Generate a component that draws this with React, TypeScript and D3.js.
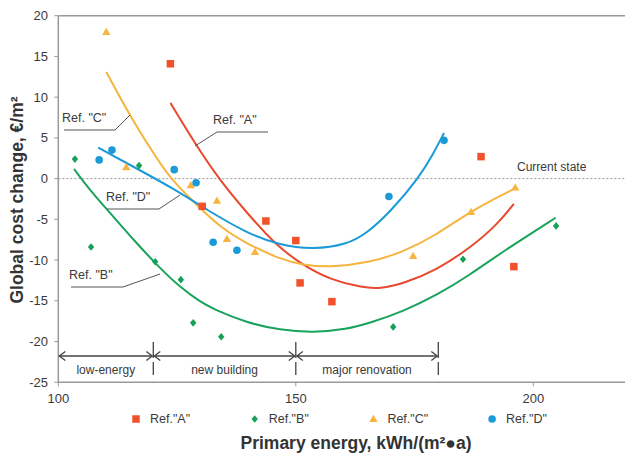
import React from "react";
import * as d3 from "d3";

// ---------- data ----------
const seriesNames = ['Ref."A"', 'Ref."B"', 'Ref."C"', 'Ref."D"'];
const seriesColors = ["#F2512B", "#16A157", "#F7B43E", "#1A9BD7"];
const curveColors = ["#E8492E", "#1AA35A", "#F5B43F", "#1A9AD6"];

const refAPoints: [number, number][] = [
  [123.6, 14.1], [130.3, -3.4], [143.7, -5.2], [150.0, -7.6],
  [150.9, -12.8], [157.6, -15.1], [189.0, 2.7], [195.9, -10.8],
];
const refBPoints: [number, number][] = [
  [103.5, 2.4], [106.9, -8.4], [117.0, 1.6], [120.4, -10.2], [125.8, -12.4],
  [128.4, -17.7], [134.3, -19.4], [170.5, -18.2], [185.2, -9.9], [204.8, -5.8],
];
const refCPoints: [number, number][] = [
  [110.1, 18.0], [114.3, 1.4], [127.9, -0.8], [133.4, -2.7], [135.5, -7.4],
  [141.4, -9.0], [174.7, -9.5], [186.9, -4.1], [196.2, -1.1],
];
const refDPoints: [number, number][] = [
  [108.6, 2.3], [111.3, 3.5], [124.4, 1.1], [129.0, -0.5],
  [132.6, -7.8], [137.6, -8.8], [169.6, -2.2], [181.2, 4.7],
];

// trend curves
const refACurve: [number, number][] = [
  [123.6, 9.3], [129.0, 4.1], [134.0, -0.2], [139.7, -4.2], [146.0, -8.3],
  [151.5, -10.6], [157.2, -12.4], [164.2, -13.4], [167.7, -13.5], [172.6, -12.9],
  [179.7, -11.2], [186.7, -8.5], [192.3, -5.7], [195.9, -3.1],
];
const refBCurve: [number, number][] = [
  [103.3, 1.2], [106.5, -1.3], [110.9, -4.2], [115.8, -7.5], [121.4, -11.0],
  [125.6, -13.3], [129.8, -15.1], [132.6, -16.0], [139.7, -17.7], [146.7, -18.6],
  [153.7, -18.9], [160.7, -18.5], [165.7, -17.7], [172.6, -16.3], [179.7, -14.3],
  [186.7, -11.8], [193.7, -8.9], [204.7, -4.8],
];
const refCCurve: [number, number][] = [
  [110.1, 13.1], [115.2, 7.6], [119.5, 3.6], [123.5, 0.0], [129.8, -3.6],
  [134.0, -5.9], [139.7, -8.0], [146.7, -9.9], [151.5, -10.6], [157.2, -10.9],
  [165.7, -10.3], [172.6, -9.0], [179.7, -6.9], [186.7, -4.0], [196.2, -1.2],
];
const refDCurve: [number, number][] = [
  [108.4, 3.8], [116.0, 1.4], [124.2, -1.2], [131.2, -3.8], [139.7, -6.7],
  [146.7, -8.2], [153.7, -8.7], [160.7, -8.1], [165.0, -6.7], [170.0, -4.0],
  [175.8, 0.0], [179.0, 3.1], [181.2, 5.6],
];

const pointSets = [refAPoints, refBPoints, refCPoints, refDPoints];
const curveSets = [refACurve, refBCurve, refCCurve, refDCurve];

const yTicks = [20, 15, 10, 5, 0, -5, -10, -15, -20, -25];
const xTicks = [100, 150, 200];

const zones = [
  { from: 100, to: 120, label: "low-energy" },
  { from: 120, to: 150, label: "new building" },
  { from: 150, to: 180, label: "major renovation" },
];
const zoneBounds = [120, 150, 180];

// ---------- layout ----------
const W = 625;
const H = 455;
const FONT = "'Liberation Sans', Arial, sans-serif";
const TEXT = "#3a3a3a";
const FRAME = "#9a9a9a";

const x = d3.scaleLinear().domain([100, 220]).range([58.3, 628.3]);
const y = d3.scaleLinear().domain([-25, 20]).range([382.3, 15.7]);

const line = d3
  .line<[number, number]>()
  .x((d) => x(d[0]))
  .y((d) => y(d[1]))
  .curve(d3.curveBasis);

function Marker({ kind, cx, cy, color }: { kind: number; cx: number; cy: number; color: string }) {
  if (kind === 0) {
    const s = 7.5;
    return <rect x={cx - s / 2} y={cy - s / 2} width={s} height={s} fill={color} />;
  }
  if (kind === 1) {
    const w = 3.2, h = 3.8;
    return (
      <path
        d={`M${cx},${cy - h}L${cx + w},${cy}L${cx},${cy + h}L${cx - w},${cy}Z`}
        fill={color}
      />
    );
  }
  if (kind === 2) {
    const p = d3.symbol(d3.symbolTriangle, 30)();
    return <path d={p || ""} transform={`translate(${cx},${cy + 0.6})`} fill={color} />;
  }
  return <circle cx={cx} cy={cy} r={3.8} fill={color} />;
}

function Arrow({ x1, x2, yy }: { x1: number; x2: number; yy: number }) {
  const a = 6, b = 4.5;
  return (
    <g stroke="#444" strokeWidth={1.3} fill="none">
      <line x1={x1 + 1} x2={x2 - 1} y1={yy} y2={yy} />
      <path d={`M${x1 + a + 1},${yy - b}L${x1 + 1},${yy}L${x1 + a + 1},${yy + b}`} />
      <path d={`M${x2 - a - 1},${yy - b}L${x2 - 1},${yy}L${x2 - a - 1},${yy + b}`} />
    </g>
  );
}

// callout labels
const callouts: { text: string; tx: number; ty: number; d: string }[] = [
  { text: 'Ref. "C"', tx: 62, ty: 118, d: "M64,130L115,130L130,115" },
  { text: 'Ref. "A"', tx: 213, ty: 120, d: "M268,132L217,132L195,146" },
  { text: 'Ref. "D"', tx: 106, ty: 197, d: "M107,209L159,209L180,195" },
  { text: 'Ref. "B"', tx: 69, ty: 275, d: "M71,287L123,287L160,274" },
];

export default function App() {
  const arrowY = 356;
  return (
    <svg
      width={W}
      height={H}
      viewBox={`0 0 ${W} ${H}`}
      style={{ position: "absolute", left: 0, top: 0, background: "#fff" }}
      fontFamily={FONT}
    >
      <rect x={0} y={0} width={W} height={H} fill="#fff" />

      {/* frame */}
      <line x1={x(100)} x2={W} y1={y(20)} y2={y(20)} stroke={FRAME} strokeWidth={1.5} />
      <line x1={x(100)} x2={x(100)} y1={y(20)} y2={y(-25)} stroke={FRAME} strokeWidth={1.5} />
      <line x1={x(100)} x2={W} y1={y(-25)} y2={y(-25)} stroke={FRAME} strokeWidth={1.5} />

      {/* y ticks */}
      {yTicks.map((t) => (
        <g key={"y" + t}>
          <line x1={x(100) - 4} x2={x(100)} y1={y(t)} y2={y(t)} stroke={FRAME} strokeWidth={1} />
          <text x={48} y={y(t)} dy="0.35em" textAnchor="end" fontSize={13} fill={TEXT}>
            {t}
          </text>
        </g>
      ))}

      {/* x ticks */}
      {xTicks.map((t) => (
        <g key={"x" + t}>
          <line x1={x(t)} x2={x(t)} y1={y(-25)} y2={y(-25) + 4} stroke={FRAME} strokeWidth={1} />
          <text x={x(t)} y={398} dy="0.35em" textAnchor="middle" fontSize={13} fill={TEXT}>
            {t}
          </text>
        </g>
      ))}

      {/* current state line */}
      <line
        x1={x(100)}
        x2={W}
        y1={y(0)}
        y2={y(0)}
        stroke="#9a9a9a"
        strokeWidth={1}
        strokeDasharray="2,2"
      />
      <text x={517} y={167} dy="0.35em" fontSize={12} fill={TEXT}>
        Current state
      </text>

      {/* zone annotations */}
      {zoneBounds.map((b) => (
        <line
          key={"zb" + b}
          x1={x(b)}
          x2={x(b)}
          y1={342}
          y2={y(-25)}
          stroke="#444"
          strokeWidth={1.3}
          strokeDasharray="16,4,13,7"
        />
      ))}
      {zones.map((z) => (
        <g key={z.label}>
          <Arrow x1={x(z.from)} x2={x(z.to)} yy={arrowY} />
          <text
            x={(x(z.from) + x(z.to)) / 2}
            y={370}
            dy="0.35em"
            textAnchor="middle"
            fontSize={12}
            fill={TEXT}
          >
            {z.label}
          </text>
        </g>
      ))}

      {/* trend curves */}
      {curveSets.map((c, i) => (
        <path key={"c" + i} d={line(c) || ""} fill="none" stroke={curveColors[i]} strokeWidth={2} />
      ))}

      {/* points */}
      {pointSets.map((ps, i) =>
        ps.map((p, j) => (
          <Marker key={`p${i}-${j}`} kind={i} cx={x(p[0])} cy={y(p[1])} color={seriesColors[i]} />
        ))
      )}

      {/* callouts */}
      {callouts.map((c) => (
        <g key={c.text}>
          <path d={c.d} fill="none" stroke="#555" strokeWidth={1} />
          <text x={c.tx} y={c.ty} dy="0.35em" fontSize={12.5} fill={TEXT}>
            {c.text}
          </text>
        </g>
      ))}

      {/* legend */}
      {seriesNames.map((n, i) => {
        const mx = 136 + i * 118.7;
        return (
          <g key={n}>
            <Marker kind={i} cx={mx} cy={419} color={seriesColors[i]} />
            <text x={mx + 14} y={419} dy="0.35em" fontSize={12.5} fill={TEXT}>
              {n}
            </text>
          </g>
        );
      })}

      {/* axis titles */}
      <text
        x={356}
        y={443}
        dy="0.35em"
        textAnchor="middle"
        fontSize={17.5}
        fontWeight="bold"
        fill="#333"
      >
        Primary energy, kWh/(m²●a)
      </text>
      <text
        transform={`translate(17,200) rotate(-90)`}
        dy="0.35em"
        textAnchor="middle"
        fontSize={17.5}
        fontWeight="bold"
        fill="#333"
      >
        Global cost change, €/m²
      </text>
    </svg>
  );
}
